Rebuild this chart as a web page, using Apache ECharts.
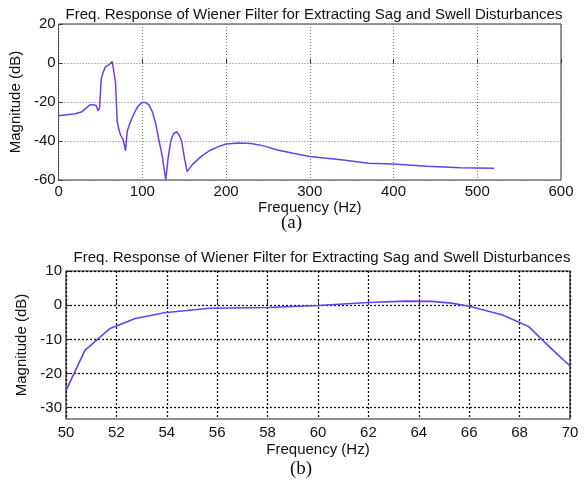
<!DOCTYPE html>
<html>
<head>
<meta charset="utf-8">
<script src="https://cdn.jsdelivr.net/npm/echarts@6/dist/echarts.min.js"></script>
<style>
html,body{margin:0;padding:0;background:#fff;}
#main{width:586px;height:487px;}
</style>
</head>
<body>
<div id="main"></div>
<script>
// (a) full-band response
var freqA = [0, 10, 20, 28, 33, 38, 42, 45, 47, 49, 50, 51, 53, 56, 60, 64, 66, 68, 70, 72, 74, 77, 80, 82, 85, 90, 95, 100, 104, 108, 112, 116, 120, 124, 128, 131, 134, 137, 141, 144, 147, 150, 153.5, 160, 170, 180, 190, 200, 215, 230, 245, 260, 280, 300, 340, 370, 400, 440, 480, 520];
var magA = [-27, -26.5, -26, -25, -23, -21.3, -21.5, -21.8, -24.5, -23, -15, -8, -5, -2, -1, 0.8, 0, -10, -30, -34, -37, -39, -45, -35, -31, -26, -22, -20.2, -20.3, -21.5, -25, -31, -40, -48, -60, -48, -40, -36.5, -35.2, -37, -40, -48, -55.7, -52, -48, -45, -43, -41.5, -41, -41.3, -42.5, -44.5, -46.3, -48, -49.8, -51.4, -51.8, -53, -53.7, -54];
// (b) zoom around 60 Hz
var freqB = [50, 50.75, 51.75, 52.75, 53.9, 55.7, 58, 60, 62, 63.5, 64.5, 65.3, 66, 67.3, 68.35, 69.3, 70];
var magB = [-25, -13.2, -6.8, -3.9, -2.2, -0.9, -0.7, -0.1, 0.8, 1.2, 1.1, 0.6, -0.3, -2.8, -6.2, -13, -17.8];
var yTicksB = [-30, -20, -10, 0, 10];
var titleText = 'Freq. Response of Wiener Filter for Extracting Sag and Swell Disturbances';

function pairs(xs, ys) {
    var out = [];
    for (var i = 0; i < xs.length; i++) out.push([xs[i], ys[i]]);
    return out;
}

var txt = {color: '#111', fontFamily: 'Liberation Sans, Arial, sans-serif', fontSize: 15};
var titleStyle = {color: '#111', fontWeight: 'normal', fontSize: 15, fontFamily: 'Liberation Sans, Arial, sans-serif'};
var lineColor = '#6a3ff0';

var option = {
    animation: false,
    backgroundColor: '#fff',
    title: [
        {text: titleText, left: 309, top: 2, textAlign: 'center', textStyle: titleStyle},
        {text: titleText, left: 317, top: 245, textAlign: 'center', textStyle: titleStyle}
    ],
    grid: [
        {left: 58, top: 24, width: 503, height: 156, show: true, borderColor: '#333', borderWidth: 1},
        {left: 66, top: 271, width: 504, height: 148, show: true, borderColor: '#222', borderWidth: 1.2}
    ],
    xAxis: [
        {
            type: 'value', gridIndex: 0, min: 0, max: 600, interval: 100,
            name: 'Frequency (Hz)', nameLocation: 'middle', nameGap: 16, nameTextStyle: txt,
            axisLine: {show: false}, axisTick: {inside: true, length: 4, lineStyle: {color: '#333'}},
            axisLabel: Object.assign({margin: 4}, txt),
            splitLine: {show: true, lineStyle: {color: '#777', type: [1, 2], width: 1}}
        },
        {
            type: 'value', gridIndex: 1, min: 50, max: 70, interval: 2,
            name: 'Frequency (Hz)', nameLocation: 'middle', nameGap: 23, nameTextStyle: txt,
            axisLine: {show: false}, axisTick: {inside: true, length: 4, lineStyle: {color: '#222'}},
            axisLabel: Object.assign({margin: 6}, txt),
            splitLine: {show: true, lineStyle: {color: '#111', type: [2, 2], width: 1.3}}
        }
    ],
    yAxis: [
        {
            type: 'value', gridIndex: 0, min: -60, max: 20, interval: 20,
            name: 'Magnitude (dB)', nameLocation: 'middle', nameGap: 30, nameTextStyle: txt,
            axisLine: {show: false}, axisTick: {inside: true, length: 4, lineStyle: {color: '#333'}},
            axisLabel: Object.assign({margin: 3}, txt),
            splitLine: {show: true, lineStyle: {color: '#777', type: [1, 2], width: 1}}
        },
        {
            type: 'value', gridIndex: 1, min: -33.3, max: 10,
            name: 'Magnitude (dB)', nameLocation: 'middle', nameGap: 37, nameTextStyle: txt,
            axisLine: {show: false},
            axisTick: {inside: true, length: 4, customValues: yTicksB, lineStyle: {color: '#222'}},
            axisLabel: Object.assign({margin: 4, customValues: yTicksB}, txt),
            splitLine: {show: true, lineStyle: {color: '#111', type: [2, 2], width: 1.3}}
        }
    ],
    graphic: [
        {type: 'text', left: 281, top: 214,
         style: {text: '(a)', fill: '#111', font: '19px "Liberation Serif", "DejaVu Serif", serif'}},
        {type: 'text', left: 290, top: 460,
         style: {text: '(b)', fill: '#111', font: '19px "Liberation Serif", "DejaVu Serif", serif'}}
    ],
    series: [
        {type: 'line', xAxisIndex: 0, yAxisIndex: 0, data: pairs(freqA, magA),
         showSymbol: false, lineStyle: {color: lineColor, width: 1.5}},
        {type: 'line', xAxisIndex: 1, yAxisIndex: 1, data: pairs(freqB, magB),
         showSymbol: false, lineStyle: {color: lineColor, width: 1.6}}
    ]
};

var myChart = echarts.init(document.getElementById('main'));
myChart.setOption(option);
</script>
</body>
</html>
